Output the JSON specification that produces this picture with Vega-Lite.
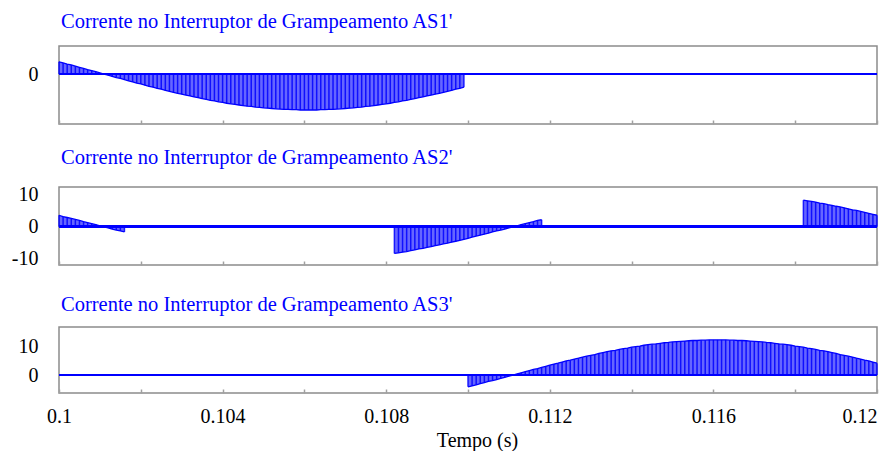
{
  "$schema": "https://vega.github.io/schema/vega-lite/v6.json",
  "background": "white",
  "padding": {"left": 10, "top": 10, "right": 0, "bottom": 0},
  "spacing": 21,
  "config": {
    "view": {"stroke": "#8c8c8c", "strokeWidth": 1.5},
    "axis": {
      "domain": false,
      "grid": false,
      "labelFont": "Liberation Serif",
      "labelFontSize": 20,
      "labelColor": "#000000",
      "titleFont": "Liberation Serif",
      "titleFontSize": 20,
      "titleFontWeight": "normal",
      "titleColor": "#000000",
      "tickColor": "#a0a0a0",
      "tickWidth": 1.5
    },
    "axisY": {"ticks": false, "labelPadding": 21, "labelOverlap": false},
    "title": {
      "font": "Liberation Serif",
      "fontSize": 20.5,
      "fontWeight": "normal",
      "color": "#0000ff",
      "anchor": "start",
      "frame": "group",
      "dx": 2
    }
  },
  "datasets": {
    "as1": [
      {"t":0.1,"i":4.2},{"t":0.1001,"i":3.8},{"t":0.1002,"i":3.4},{"t":0.1003,"i":3.1},{"t":0.1004,"i":2.7},
      {"t":0.1005,"i":2.3},{"t":0.1006,"i":1.9},{"t":0.1007,"i":1.5},{"t":0.1008,"i":1.2},{"t":0.1009,"i":0.8},
      {"t":0.101,"i":0.4},{"t":0.1011,"i":0},{"t":0.1012,"i":-0.4},{"t":0.1013,"i":-0.8},{"t":0.1014,"i":-1.2},
      {"t":0.1015,"i":-1.5},{"t":0.1016,"i":-1.9},{"t":0.1017,"i":-2.3},{"t":0.1018,"i":-2.7},{"t":0.1019,"i":-3.1},
      {"t":0.102,"i":-3.4},{"t":0.1021,"i":-3.8},{"t":0.1022,"i":-4.2},{"t":0.1023,"i":-4.5},{"t":0.1024,"i":-4.9},
      {"t":0.1025,"i":-5.2},{"t":0.1026,"i":-5.6},{"t":0.1027,"i":-5.9},{"t":0.1028,"i":-6.3},{"t":0.1029,"i":-6.6},
      {"t":0.103,"i":-6.9},{"t":0.1031,"i":-7.2},{"t":0.1032,"i":-7.5},{"t":0.1033,"i":-7.8},{"t":0.1034,"i":-8.1},
      {"t":0.1035,"i":-8.4},{"t":0.1036,"i":-8.7},{"t":0.1037,"i":-9.0},{"t":0.1038,"i":-9.2},{"t":0.1039,"i":-9.5},
      {"t":0.104,"i":-9.7},{"t":0.1041,"i":-10.0},{"t":0.1042,"i":-10.2},{"t":0.1043,"i":-10.4},{"t":0.1044,"i":-10.6},
      {"t":0.1045,"i":-10.8},{"t":0.1046,"i":-11.0},{"t":0.1047,"i":-11.1},{"t":0.1048,"i":-11.3},{"t":0.1049,"i":-11.4},
      {"t":0.105,"i":-11.6},{"t":0.1051,"i":-11.7},{"t":0.1052,"i":-11.8},{"t":0.1053,"i":-11.9},{"t":0.1054,"i":-12.0},
      {"t":0.1055,"i":-12.1},{"t":0.1056,"i":-12.1},{"t":0.1057,"i":-12.2},{"t":0.1058,"i":-12.2},{"t":0.1059,"i":-12.3},
      {"t":0.106,"i":-12.3},{"t":0.1061,"i":-12.3},{"t":0.1062,"i":-12.3},{"t":0.1063,"i":-12.3},{"t":0.1064,"i":-12.2},
      {"t":0.1065,"i":-12.2},{"t":0.1066,"i":-12.1},{"t":0.1067,"i":-12.1},{"t":0.1068,"i":-12.0},{"t":0.1069,"i":-11.9},
      {"t":0.107,"i":-11.8},{"t":0.1071,"i":-11.7},{"t":0.1072,"i":-11.6},{"t":0.1073,"i":-11.4},{"t":0.1074,"i":-11.3},
      {"t":0.1075,"i":-11.1},{"t":0.1076,"i":-11.0},{"t":0.1077,"i":-10.8},{"t":0.1078,"i":-10.6},{"t":0.1079,"i":-10.4},
      {"t":0.108,"i":-10.2},{"t":0.1081,"i":-10.0},{"t":0.1082,"i":-9.7},{"t":0.1083,"i":-9.5},{"t":0.1084,"i":-9.2},
      {"t":0.1085,"i":-9.0},{"t":0.1086,"i":-8.7},{"t":0.1087,"i":-8.4},{"t":0.1088,"i":-8.1},{"t":0.1089,"i":-7.8},
      {"t":0.109,"i":-7.5},{"t":0.1091,"i":-7.2},{"t":0.1092,"i":-6.9},{"t":0.1093,"i":-6.6},{"t":0.1094,"i":-6.3},
      {"t":0.1095,"i":-5.9},{"t":0.1096,"i":-5.6},{"t":0.1097,"i":-5.2},{"t":0.1098,"i":-4.9},{"t":0.1099,"i":-4.5}
    ],
    "as2": [
      {"s":1,"t":0.1,"i":3.6},{"s":1,"t":0.1001,"i":3.2},{"s":1,"t":0.1002,"i":2.9},{"s":1,"t":0.1003,"i":2.6},
      {"s":1,"t":0.1004,"i":2.3},{"s":1,"t":0.1005,"i":2.0},{"s":1,"t":0.1006,"i":1.6},{"s":1,"t":0.1007,"i":1.3},
      {"s":1,"t":0.1008,"i":1.0},{"s":1,"t":0.1009,"i":0.7},{"s":1,"t":0.101,"i":0.3},{"s":1,"t":0.1011,"i":0},
      {"s":1,"t":0.1012,"i":-0.3},{"s":1,"t":0.1013,"i":-0.7},{"s":1,"t":0.1014,"i":-1.0},{"s":1,"t":0.1015,"i":-1.3},
      {"s":1,"t":0.1016,"i":-1.6},
      {"s":2,"t":0.1082,"i":-8.3},{"s":2,"t":0.1083,"i":-8.1},{"s":2,"t":0.1084,"i":-7.9},{"s":2,"t":0.1085,"i":-7.7},
      {"s":2,"t":0.1086,"i":-7.4},{"s":2,"t":0.1087,"i":-7.2},{"s":2,"t":0.1088,"i":-6.9},{"s":2,"t":0.1089,"i":-6.7},
      {"s":2,"t":0.109,"i":-6.4},{"s":2,"t":0.1091,"i":-6.2},{"s":2,"t":0.1092,"i":-5.9},{"s":2,"t":0.1093,"i":-5.6},
      {"s":2,"t":0.1094,"i":-5.3},{"s":2,"t":0.1095,"i":-5.1},{"s":2,"t":0.1096,"i":-4.8},{"s":2,"t":0.1097,"i":-4.5},
      {"s":2,"t":0.1098,"i":-4.2},{"s":2,"t":0.1099,"i":-3.9},{"s":2,"t":0.11,"i":-3.6},{"s":2,"t":0.1101,"i":-3.2},
      {"s":2,"t":0.1102,"i":-2.9},{"s":2,"t":0.1103,"i":-2.6},{"s":2,"t":0.1104,"i":-2.3},{"s":2,"t":0.1105,"i":-2.0},
      {"s":2,"t":0.1106,"i":-1.6},{"s":2,"t":0.1107,"i":-1.3},{"s":2,"t":0.1108,"i":-1.0},{"s":2,"t":0.1109,"i":-0.7},
      {"s":2,"t":0.111,"i":-0.3},{"s":2,"t":0.1111,"i":0},{"s":2,"t":0.1112,"i":0.3},{"s":2,"t":0.1113,"i":0.7},
      {"s":2,"t":0.1114,"i":1.0},{"s":2,"t":0.1115,"i":1.3},{"s":2,"t":0.1116,"i":1.6},{"s":2,"t":0.1117,"i":2.0},
      {"s":2,"t":0.1118,"i":2.2},
      {"s":3,"t":0.1182,"i":8.3},{"s":3,"t":0.1183,"i":8.1},{"s":3,"t":0.1184,"i":7.9},{"s":3,"t":0.1185,"i":7.7},
      {"s":3,"t":0.1186,"i":7.4},{"s":3,"t":0.1187,"i":7.2},{"s":3,"t":0.1188,"i":6.9},{"s":3,"t":0.1189,"i":6.7},
      {"s":3,"t":0.119,"i":6.4},{"s":3,"t":0.1191,"i":6.2},{"s":3,"t":0.1192,"i":5.9},{"s":3,"t":0.1193,"i":5.6},
      {"s":3,"t":0.1194,"i":5.3},{"s":3,"t":0.1195,"i":5.1},{"s":3,"t":0.1196,"i":4.8},{"s":3,"t":0.1197,"i":4.5},
      {"s":3,"t":0.1198,"i":4.2},{"s":3,"t":0.1199,"i":3.9},{"s":3,"t":0.12,"i":3.6}
    ],
    "as3": [
      {"t":0.11,"i":-4.2},{"t":0.1101,"i":-3.9},{"t":0.1102,"i":-3.5},{"t":0.1103,"i":-3.1},{"t":0.1104,"i":-2.7},
      {"t":0.1105,"i":-2.3},{"t":0.1106,"i":-2.0},{"t":0.1107,"i":-1.6},{"t":0.1108,"i":-1.2},{"t":0.1109,"i":-0.8},
      {"t":0.111,"i":-0.4},{"t":0.1111,"i":0},{"t":0.1112,"i":0.4},{"t":0.1113,"i":0.8},{"t":0.1114,"i":1.2},
      {"t":0.1115,"i":1.6},{"t":0.1116,"i":2.0},{"t":0.1117,"i":2.3},{"t":0.1118,"i":2.7},{"t":0.1119,"i":3.1},
      {"t":0.112,"i":3.5},{"t":0.1121,"i":3.9},{"t":0.1122,"i":4.2},{"t":0.1123,"i":4.6},{"t":0.1124,"i":5.0},
      {"t":0.1125,"i":5.3},{"t":0.1126,"i":5.7},{"t":0.1127,"i":6.0},{"t":0.1128,"i":6.4},{"t":0.1129,"i":6.7},
      {"t":0.113,"i":7.0},{"t":0.1131,"i":7.3},{"t":0.1132,"i":7.7},{"t":0.1133,"i":8.0},{"t":0.1134,"i":8.3},
      {"t":0.1135,"i":8.6},{"t":0.1136,"i":8.8},{"t":0.1137,"i":9.1},{"t":0.1138,"i":9.4},{"t":0.1139,"i":9.6},
      {"t":0.114,"i":9.9},{"t":0.1141,"i":10.1},{"t":0.1142,"i":10.3},{"t":0.1143,"i":10.6},{"t":0.1144,"i":10.8},
      {"t":0.1145,"i":11.0},{"t":0.1146,"i":11.1},{"t":0.1147,"i":11.3},{"t":0.1148,"i":11.5},{"t":0.1149,"i":11.6},
      {"t":0.115,"i":11.8},{"t":0.1151,"i":11.9},{"t":0.1152,"i":12.0},{"t":0.1153,"i":12.1},{"t":0.1154,"i":12.2},
      {"t":0.1155,"i":12.3},{"t":0.1156,"i":12.3},{"t":0.1157,"i":12.4},{"t":0.1158,"i":12.4},{"t":0.1159,"i":12.5},
      {"t":0.116,"i":12.5},{"t":0.1161,"i":12.5},{"t":0.1162,"i":12.5},{"t":0.1163,"i":12.5},{"t":0.1164,"i":12.4},
      {"t":0.1165,"i":12.4},{"t":0.1166,"i":12.3},{"t":0.1167,"i":12.3},{"t":0.1168,"i":12.2},{"t":0.1169,"i":12.1},
      {"t":0.117,"i":12.0},{"t":0.1171,"i":11.9},{"t":0.1172,"i":11.8},{"t":0.1173,"i":11.6},{"t":0.1174,"i":11.5},
      {"t":0.1175,"i":11.3},{"t":0.1176,"i":11.1},{"t":0.1177,"i":11.0},{"t":0.1178,"i":10.8},{"t":0.1179,"i":10.6},
      {"t":0.118,"i":10.3},{"t":0.1181,"i":10.1},{"t":0.1182,"i":9.9},{"t":0.1183,"i":9.6},{"t":0.1184,"i":9.4},
      {"t":0.1185,"i":9.1},{"t":0.1186,"i":8.8},{"t":0.1187,"i":8.6},{"t":0.1188,"i":8.3},{"t":0.1189,"i":8.0},
      {"t":0.119,"i":7.7},{"t":0.1191,"i":7.3},{"t":0.1192,"i":7.0},{"t":0.1193,"i":6.7},{"t":0.1194,"i":6.4},
      {"t":0.1195,"i":6.0},{"t":0.1196,"i":5.7},{"t":0.1197,"i":5.3},{"t":0.1198,"i":5.0},{"t":0.1199,"i":4.6},
      {"t":0.12,"i":4.2}
    ]
  },
  "vconcat": [
    {
      "width": 818,
      "height": 78,
      "title": {"text": "Corrente no Interruptor de Grampeamento  AS1'", "offset": 14},
      "data": {"name": "as1"},
      "encoding": {
        "x": {"field": "t", "type": "quantitative",
              "scale": {"domain": [0.1, 0.12], "nice": false, "zero": false},
              "axis": {"values": [0.1,0.102,0.104,0.106,0.108,0.11,0.112,0.114,0.116,0.118,0.12],
                       "labels": false, "title": null, "tickSize": -4}},
        "y": {"field": "i", "type": "quantitative",
              "scale": {"domain": [-17.1, 9.6], "nice": false, "zero": false},
              "axis": {"values": [0], "title": null, "labelOverlap": false, "labelExpr": "toString(datum.value)"}}
      },
      "layer": [
        {"mark": {"type": "area", "color": "#0000ff", "opacity": 0.6}, "encoding": {"y2": {"datum": 0}}},
        {"mark": {"type": "rule", "color": "#0000ff", "strokeWidth": 1.5, "opacity": 0.85}, "encoding": {"y2": {"datum": 0}}},
        {"mark": {"type": "line", "color": "#0000ff", "strokeWidth": 1.3}, "encoding": {}},
        {"mark": {"type": "rule", "color": "#0000ff", "strokeWidth": 2},
         "encoding": {"x": {"datum": 0.1}, "x2": {"datum": 0.12}, "y": {"datum": 0}}}
      ]
    },
    {
      "width": 818,
      "height": 78,
      "title": {"text": "Corrente no Interruptor de Grampeamento AS2'", "offset": 16},
      "data": {"name": "as2"},
      "encoding": {
        "x": {"field": "t", "type": "quantitative",
              "scale": {"domain": [0.1, 0.12], "nice": false, "zero": false},
              "axis": {"values": [0.1,0.102,0.104,0.106,0.108,0.11,0.112,0.114,0.116,0.118,0.12],
                       "labels": false, "tickSize": -4,
                       "title": " ", "titleFontSize": 1, "titlePadding": 4}},
        "y": {"field": "i", "type": "quantitative",
              "scale": {"domain": [-11.9, 12.4], "nice": false, "zero": false},
              "axis": {"values": [-10, 0, 10], "title": null, "labelOverlap": false, "labelExpr": "toString(datum.value)"}},
        "detail": {"field": "s"}
      },
      "layer": [
        {"mark": {"type": "area", "color": "#0000ff", "opacity": 0.6}, "encoding": {"y2": {"datum": 0}}},
        {"mark": {"type": "rule", "color": "#0000ff", "strokeWidth": 1.5, "opacity": 0.85}, "encoding": {"y2": {"datum": 0}}},
        {"mark": {"type": "line", "color": "#0000ff", "strokeWidth": 1.3}, "encoding": {}},
        {"mark": {"type": "rule", "color": "#0000ff", "strokeWidth": 2},
         "encoding": {"x": {"datum": 0.1}, "x2": {"datum": 0.12}, "y": {"datum": 0}, "detail": null}}
      ]
    },
    {
      "width": 818,
      "height": 66,
      "title": {"text": "Corrente no Interruptor de Grampeamento AS3'", "offset": 12},
      "data": {"name": "as3"},
      "encoding": {
        "x": {"field": "t", "type": "quantitative",
              "scale": {"domain": [0.1, 0.12], "nice": false, "zero": false},
              "axis": {"values": [0.1,0.102,0.104,0.106,0.108,0.11,0.112,0.114,0.116,0.118,0.12],
                       "format": "~g",
                       "labelExpr": "round(datum.value * 1000) % 4 == 0 ? datum.label : ''",
                       "labelAlign": {"condition": {"test": "datum.value > 0.1199", "value": "right"}, "value": "center"},
                       "labelPadding": 17,
                       "tickSize": -4,
                       "title": "Tempo (s)",
                       "titleX": 418,
                       "titleY": 53,
                       "titleAlign": "center",
                       "titleBaseline": "alphabetic"}},
        "y": {"field": "i", "type": "quantitative",
              "scale": {"domain": [-6.4, 17.1], "nice": false, "zero": false},
              "axis": {"values": [0, 10], "title": null, "labelOverlap": false, "labelExpr": "toString(datum.value)"}}
      },
      "layer": [
        {"mark": {"type": "area", "color": "#0000ff", "opacity": 0.6}, "encoding": {"y2": {"datum": 0}}},
        {"mark": {"type": "rule", "color": "#0000ff", "strokeWidth": 1.5, "opacity": 0.85}, "encoding": {"y2": {"datum": 0}}},
        {"mark": {"type": "line", "color": "#0000ff", "strokeWidth": 1.3}, "encoding": {}},
        {"mark": {"type": "rule", "color": "#0000ff", "strokeWidth": 2},
         "encoding": {"x": {"datum": 0.1}, "x2": {"datum": 0.12}, "y": {"datum": 0}}}
      ]
    }
  ]
}
